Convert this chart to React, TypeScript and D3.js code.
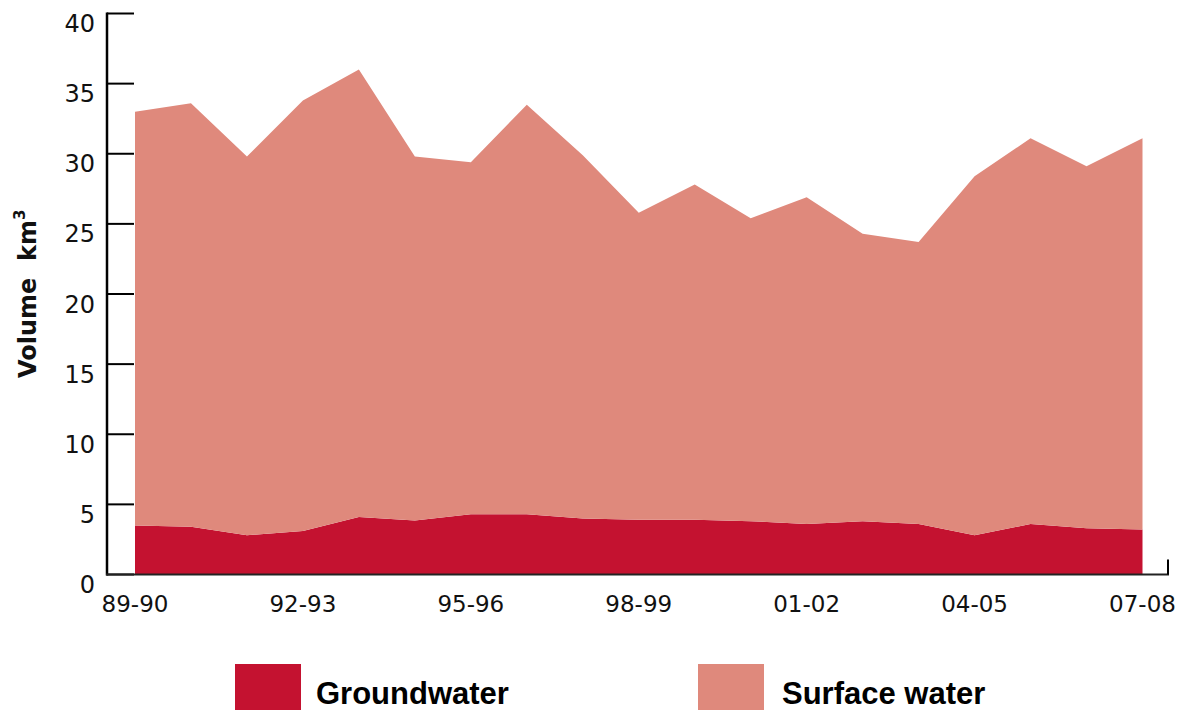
import React from "react";
import * as d3 from "d3";

const years = ["89-90","90-91","91-92","92-93","93-94","94-95","95-96","96-97","97-98","98-99","99-00","00-01","01-02","02-03","03-04","04-05","05-06","06-07","07-08"];
const tickYears = ["89-90","92-93","95-96","98-99","01-02","04-05","07-08"];
const groundwater = [3.5, 3.4, 2.8, 3.1, 4.1, 3.85, 4.3, 4.3, 4.0, 3.9, 3.9, 3.8, 3.6, 3.8, 3.6, 2.8, 3.6, 3.3, 3.2];
const surfaceWater = [29.5, 30.2, 27.0, 30.7, 31.9, 25.95, 25.1, 29.2, 25.9, 21.9, 23.9, 21.6, 23.3, 20.5, 20.1, 25.6, 27.5, 25.8, 27.9];
const yTicks = [0, 5, 10, 15, 20, 25, 30, 35, 40];
const seriesKeys = ["Groundwater", "Surface water"];
const colors = ["#C41230", "#DF897C"];

export default function App() {
  const W = 1187, H = 710;
  const x = d3.scalePoint<string>().domain(years).range([135, 1142.5]);
  const y = d3.scaleLinear().domain([0, 40]).range([574.5, 13.5]);
  const table = years.map((yr, i) => ({ year: yr, Groundwater: groundwater[i], "Surface water": surfaceWater[i] }));
  const stacked = d3.stack<any>().keys(seriesKeys)(table);
  const area = d3.area<any>()
    .x((d) => x(d.data.year) as number)
    .y0((d) => y(d[0]))
    .y1((d) => y(d[1]));
  const tickFont = "'DejaVu Sans', sans-serif";
  const legendFont = "'Liberation Sans', Arial, sans-serif";
  return (
    <svg width={W} height={H} style={{ position: "absolute", left: 0, top: 0, background: "#fff" }}>
      {stacked.map((s, i) => (
        <path key={s.key} d={area(s) as string} fill={colors[i]} />
      ))}
      {/* y axis */}
      <line x1={107} x2={107} y1={y(40) - 1} y2={y(0) + 1} stroke="#000" strokeWidth={2.5} />
      {yTicks.map((t) => (
        <g key={t}>
          <line x1={107} x2={134} y1={y(t)} y2={y(t)} stroke="#000" strokeWidth={2} />
          <text x={95} y={y(t) + 18.5} textAnchor="end" fontFamily={tickFont} fontSize={24} fill="#111">{t}</text>
        </g>
      ))}
      {/* x axis */}
      <line x1={106} x2={1169} y1={y(0)} y2={y(0)} stroke="#222" strokeWidth={2} />
      <line x1={1168} x2={1168} y1={y(0) - 15} y2={y(0)} stroke="#000" strokeWidth={2} />
      {tickYears.map((t) => (
        <text key={t} x={x(t) as number} y={612} textAnchor="middle" fontFamily={tickFont} fontSize={23} fill="#111">{t}</text>
      ))}
      {/* y title */}
      <text transform="translate(36,378) rotate(-90)" fontFamily={tickFont} fontWeight="bold" fontSize={24} fill="#111" style={{ whiteSpace: "pre" }}>
        {"Volume  km"}<tspan dy={-11} fontSize={15}>3</tspan>
      </text>
      {/* legend */}
      <rect x={235} y={664} width={66} height={46} fill={colors[0]} />
      <text x={316} y={704} fontFamily={legendFont} fontWeight="bold" fontSize={31} fill="#000">{seriesKeys[0]}</text>
      <rect x={698} y={664} width={66} height={46} fill={colors[1]} />
      <text x={782} y={704} fontFamily={legendFont} fontWeight="bold" fontSize={31} fill="#000">{seriesKeys[1]}</text>
    </svg>
  );
}
